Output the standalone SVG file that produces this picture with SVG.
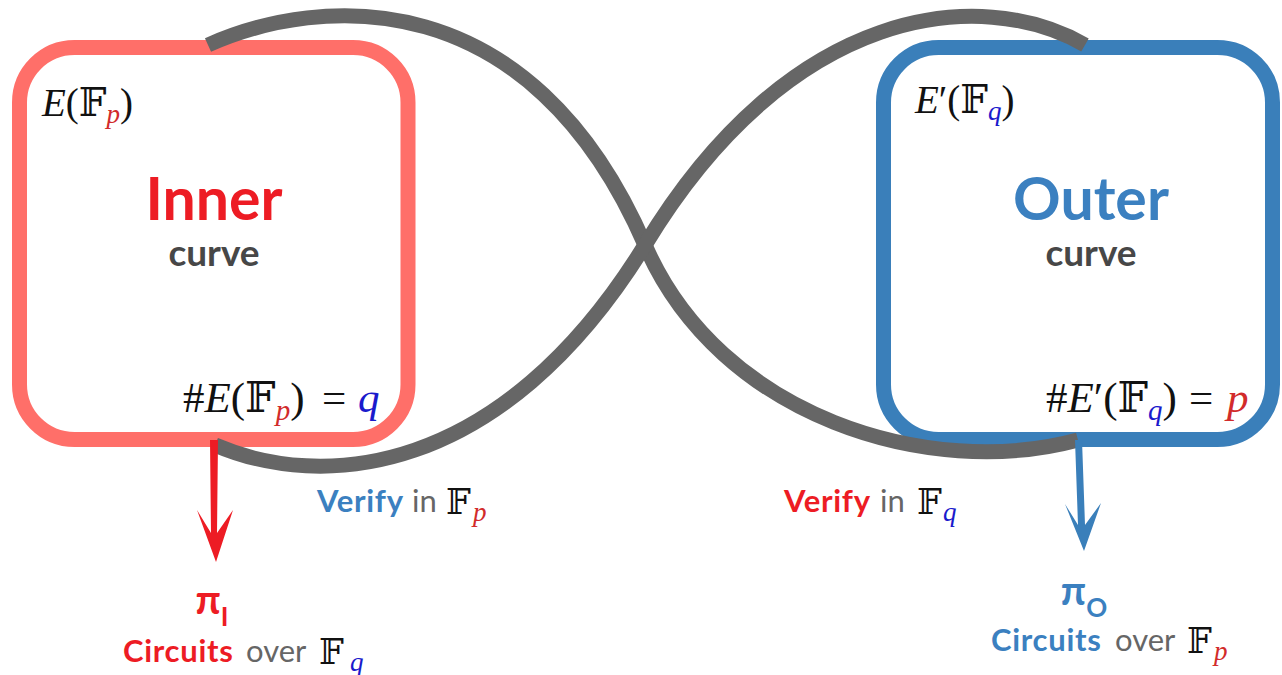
<svg xmlns="http://www.w3.org/2000/svg" width="1282" height="675" viewBox="0 0 1282 675">
<style>
.box{fill:none;stroke-width:15}
.loop{fill:none;stroke:#666666;stroke-width:15;stroke-linecap:butt}
.title{font-family:Lato,"Open Sans",sans-serif;font-weight:700;text-anchor:middle}
.sub{font-family:Lato,"Open Sans",sans-serif;font-weight:700;font-size:37px;fill:#474747;text-anchor:middle}
.math{font-family:"Liberation Serif","DejaVu Serif",serif;font-size:39px;fill:#111111}
.mathL{font-family:"Liberation Serif","DejaVu Serif",serif;font-size:43px;fill:#111111}
.it{font-style:italic}
.bb{font-family:"DejaVu Serif","DejaVu Sans",serif;font-style:normal}
.lbl{font-family:Lato,"Open Sans",sans-serif;font-size:31px}
.b{font-weight:700;letter-spacing:0.7px}
.gray{fill:#666666}
.red{fill:#ED1C24}
.blue{fill:#3B80C0}
.mred{fill:#D22B2B}
.mblue{fill:#1A1ACC}
.fbb{font-family:"DejaVu Serif","DejaVu Sans",serif;font-size:35px;fill:#111111}
.sb{font-family:"Liberation Serif","DejaVu Serif",serif;font-style:italic;font-size:27px}
</style>
<rect width="1282" height="675" fill="#ffffff"/>
<g id="inner">
<rect class="box" x="19.5" y="47.5" width="388.5" height="392" rx="55" stroke="#FF6F69"/>
<text class="title red" x="214" y="220" font-size="59">Inner</text>
<text class="sub" x="214" y="266">curve</text>
<text class="math" x="42" y="116"><tspan class="it">E</tspan>(<tspan class="bb">𝔽</tspan><tspan class="it mred" font-size="27" dy="7">p</tspan><tspan dy="-7">)</tspan></text>
<text class="mathL" x="183" y="412">#<tspan class="it">E</tspan>(<tspan class="bb">𝔽</tspan><tspan class="it mred" font-size="29" dy="8">p</tspan><tspan dy="-8">)</tspan></text>
<text class="mathL" x="322" y="412">=</text>
<text class="mathL it mblue" x="358" y="412">q</text>
</g>
<g id="outer">
<rect class="box" x="883.5" y="47.5" width="389" height="392" rx="55" stroke="#3A7FBA"/>
<text class="title blue" x="1091" y="220" font-size="59">Outer</text>
<text class="sub" x="1091" y="266">curve</text>
<text class="math" x="915" y="113"><tspan class="it">E</tspan>′(<tspan class="bb">𝔽</tspan><tspan class="it mblue" font-size="27" dy="7">q</tspan><tspan dy="-7">)</tspan></text>
<text class="mathL" x="1046" y="412">#<tspan class="it">E</tspan>′(<tspan class="bb">𝔽</tspan><tspan class="it mblue" font-size="29" dy="8">q</tspan><tspan dy="-8">)</tspan></text>
<text class="mathL" x="1189" y="412">=</text>
<text class="mathL it mred" x="1227" y="412">p</text>
</g>
<g id="connectors">
<path class="loop" d="M208,45 C320,-5 530,-20 645,245 C720,418 930,480 1078,440"/>
<path class="loop" d="M215,445 C320,490 500,480 645,245 C790,5 980,-15 1085,45"/>
<path d="M210,440 L218,440 L217,533 L233,510 L216,562 L197,510 L211,533 Z" fill="#ED1C24"/>
<path d="M1075,440 L1082,440 L1085,525 L1101,503 L1084,551 L1065,504 L1078,525 Z" fill="#3A7FBA"/>
</g>
<g id="verify-p">
<text class="lbl b blue" x="317" y="512">Verify</text>
<text class="lbl gray" x="412" y="512">in</text>
<text class="fbb" x="446" y="514">𝔽</text>
<text class="sb mred" x="473" y="521">p</text>
</g>
<g id="verify-q">
<text class="lbl b red" x="784" y="512">Verify</text>
<text class="lbl gray" x="880" y="512">in</text>
<text class="fbb" x="917" y="514">𝔽</text>
<text class="sb mblue" x="943" y="521">q</text>
</g>
<g id="pi-inner">
<text class="title red" x="212" y="614" font-size="40">π<tspan font-size="26" dy="12">I</tspan></text>
<text class="lbl b red" x="123" y="662">Circuits</text>
<text class="lbl gray" x="246" y="662">over</text>
<text class="fbb" x="319" y="664">𝔽</text>
<text class="sb mblue" x="350" y="671">q</text>
</g>
<g id="pi-outer">
<text class="title blue" x="1084" y="605" font-size="40">π<tspan font-size="26" dy="12">O</tspan></text>
<text class="lbl b blue" x="991" y="651">Circuits</text>
<text class="lbl gray" x="1115" y="651">over</text>
<text class="fbb" x="1187" y="653">𝔽</text>
<text class="sb mred" x="1214" y="660">p</text>
</g>
</svg>
